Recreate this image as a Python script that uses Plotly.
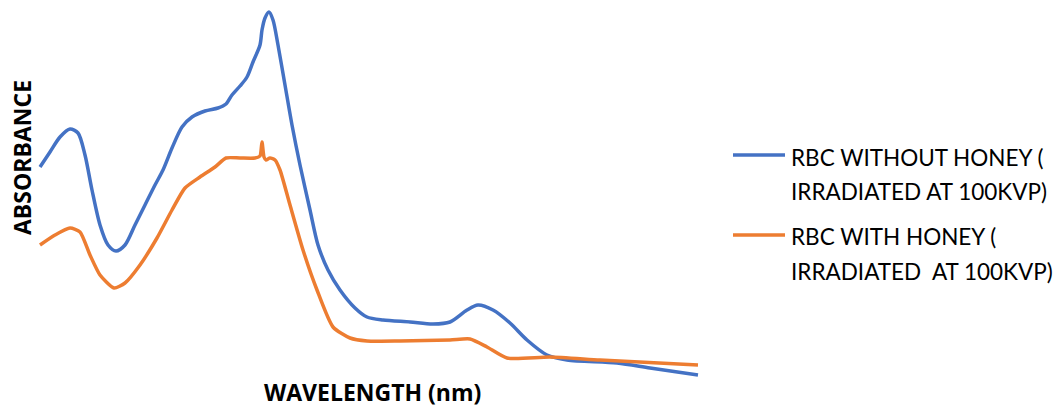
import plotly.graph_objects as go

# Wavelength positions (arbitrary units, no tick labels on the original)
wl_blue = [40, 50, 60, 70, 78, 85, 92, 100, 108, 116, 125, 135, 145, 155, 163, 172, 182, 192, 205, 218,
           226, 232, 240, 247, 253, 260, 262, 265, 269, 273, 278, 285, 292, 300, 310, 318, 328, 340,
           355, 367, 383, 410, 433, 450, 467, 478, 493, 510, 527, 547, 567, 617, 650, 698]
abs_blue = [2.33, 2.48, 2.63, 2.71, 2.67, 2.45, 2.10, 1.75, 1.55, 1.49, 1.55, 1.75, 1.95, 2.15, 2.30, 2.52,
            2.73, 2.83, 2.89, 2.92, 2.96, 3.05, 3.14, 3.23, 3.38, 3.55, 3.70, 3.82, 3.88, 3.80, 3.55, 3.15,
            2.75, 2.35, 1.90, 1.55, 1.30, 1.10, 0.92, 0.83, 0.80, 0.78, 0.76, 0.78, 0.90, 0.95, 0.90, 0.77,
            0.60, 0.45, 0.40, 0.37, 0.32, 0.25]

wl_orange = [40, 55, 70, 80, 90, 100, 114, 125, 140, 157, 172, 185, 200, 215, 226, 240, 255, 260, 262,
             264, 266, 270, 275, 280, 290, 303, 317, 333, 350, 367, 400, 450, 470, 487, 507, 550, 600, 698]
abs_orange = [1.55, 1.65, 1.72, 1.68, 1.45, 1.25, 1.12, 1.17, 1.35, 1.62, 1.90, 2.12, 2.23, 2.33, 2.42,
              2.42, 2.42, 2.44, 2.58, 2.43, 2.40, 2.42, 2.40, 2.30, 1.95, 1.50, 1.10, 0.73, 0.62, 0.59,
              0.59, 0.60, 0.61, 0.53, 0.42, 0.43, 0.40, 0.35]

legend_lines = [["RBC WITHOUT HONEY (", "IRRADIATED AT 100KVP)"],
                ["RBC WITH HONEY (", "IRRADIATED  AT 100KVP)"]]
series_names = ["RBC WITHOUT HONEY (IRRADIATED AT 100KVP)", "RBC WITH HONEY (IRRADIATED  AT 100KVP)"]
colors = ["#4472C4", "#ED7D31"]
x_title = "WAVELENGTH (nm)"
y_title = "ABSORBANCE"

fig = go.Figure()
fig.add_trace(go.Scatter(x=wl_blue, y=abs_blue, mode="lines", name=series_names[0],
                         line=dict(color=colors[0], width=3.5, shape="spline", smoothing=0.8)))
fig.add_trace(go.Scatter(x=wl_orange, y=abs_orange, mode="lines", name=series_names[1],
                         line=dict(color=colors[1], width=3.5, shape="spline", smoothing=0.6)))

W, H = 1061, 409
L, R, T, B = 38, 361, 8, 29
pw, ph = W - L - R, H - T - B

def sx(px):
    return (px - L) / pw

def sy(py):
    return (H - B - py) / ph

annotations = [
    dict(text="<b>%s</b>" % x_title, xref="paper", yref="paper",
         x=sx(373), y=sy(409), xanchor="center", yanchor="bottom", borderpad=0,
         showarrow=False, font=dict(family="Open Sans", size=23, color="#000000")),
    dict(text="<b>%s</b>" % y_title, xref="paper", yref="paper", textangle=-90,
         x=sx(22), y=sy(158), xanchor="center", yanchor="middle", borderpad=0,
         showarrow=False, font=dict(family="Open Sans", size=23, color="#000000")),
]
shapes = []
leg_line_y = [155, 235]
leg_text_y = [[157, 191], [236, 271]]
for i, lines in enumerate(legend_lines):
    shapes.append(dict(type="line", xref="paper", yref="paper", x0=sx(733), x1=sx(785),
                       y0=sy(leg_line_y[i]), y1=sy(leg_line_y[i]), line=dict(color=colors[i], width=3.5)))
    for j, t in enumerate(lines):
        annotations.append(dict(text=t, xref="paper", yref="paper", x=sx(790), y=sy(leg_text_y[i][j]),
                                xanchor="left", yanchor="middle", showarrow=False, borderpad=0,
                                font=dict(family="Lato", size=22.5, color="#000000")))

fig.update_layout(
    width=W, height=H,
    margin=dict(l=L, r=R, t=T, b=B),
    paper_bgcolor="white", plot_bgcolor="white",
    font=dict(family="Lato", color="#000000"),
    xaxis=dict(range=[38, 700], visible=False),
    yaxis=dict(range=[0.20, 3.92], visible=False),
    showlegend=False,
    annotations=annotations,
    shapes=shapes,
)

fig.write_html("out.html", config={"displayModeBar": False},
               post_script="document.body.style.margin='0';document.body.style.overflow='hidden';")
